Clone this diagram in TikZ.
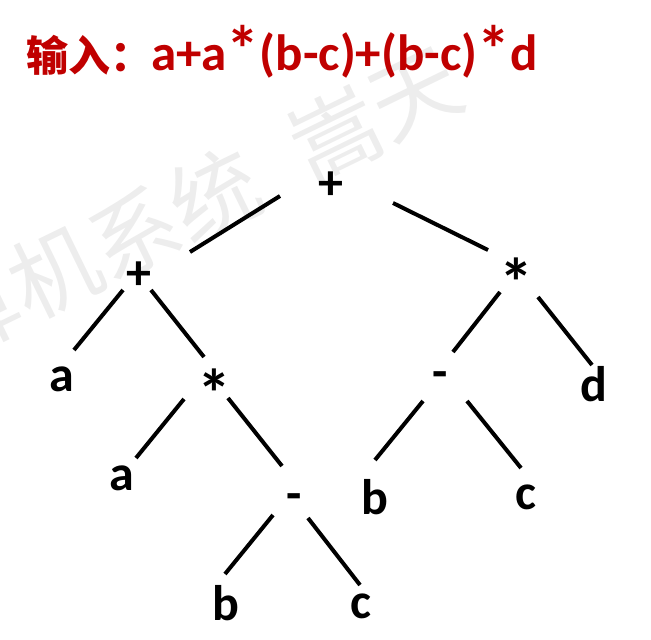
\documentclass[tikz,border=0pt]{standalone}
\usepackage{fontspec}
\setmainfont{Carlito}
\newfontfamily\cjk{Noto Sans CJK SC}
\definecolor{titlered}{RGB}{192,0,0}
\newcommand{\bigast}{{\fontsize{66}{60}\selectfont\raisebox{-2pt}{*}}}
\begin{document}
\begin{tikzpicture}[x=1pt,y=-1pt,
  lab/.style={font=\fontsize{50}{60}\selectfont\bfseries, inner sep=0pt},
  astlab/.style={font=\fontsize{68}{60}\selectfont\bfseries, inner sep=0pt},
  edge/.style={line width=4pt},
  wm/.style={font=\cjk\fontsize{89}{100}\selectfont, text=black!7, rotate=26, inner sep=0pt}]
\useasboundingbox (0,0) rectangle (651,640);
% watermark
\begin{scope}
\clip (0,0) rectangle (651,640);
\node[wm] (w1) at (-25,311) {算};
\node[wm] (w2) at (55,272) {机};
\node[wm] (w3) at (135,233) {系};
\node[wm] (w4) at (215,194) {统};
\node[wm] (w5) at (336,135) {嵩};
\node[wm] (w6) at (416,96) {天};
\end{scope}
% title
\node[anchor=base west, inner sep=0pt, text=titlered, font=\cjk\bfseries\fontsize{42}{48}\selectfont] (t1) at (26,71) {输入：};
\node[anchor=base west, inner sep=0pt, text=titlered, font=\bfseries\fontsize{51}{60}\selectfont] (t2) at (151,70) {a+a\bigast(b-c)+(b-c)\bigast d};
% tree labels
\node[lab] (root) at (331,186) {+};
\node[lab] (lp) at (139,276) {+};
\node[astlab] (rs) at (516,282) {*};
\node[lab] (a1) at (62,379) {a};
\node[astlab] (ms) at (214,393) {*};
\node[lab] (rm) at (440,380) {-};
\node[lab] (d) at (594,384) {d};
\node[lab] (a2) at (122,478) {a};
\node[lab] (mm) at (294,502) {-};
\node[lab] (b1) at (375,497) {b};
\node[lab] (c1) at (526,497) {c};
\node[lab] (b2) at (226,603) {b};
\node[lab] (c2) at (361,606) {c};
% edge end points
\coordinate (e1s) at (280,196); \coordinate (e1e) at (190,252);
\coordinate (e2s) at (393,203); \coordinate (e2e) at (488,250);
\coordinate (e3s) at (123,290); \coordinate (e3e) at (74,350);
\coordinate (e4s) at (151,290); \coordinate (e4e) at (204,357);
\coordinate (e5s) at (500,292); \coordinate (e5e) at (453,352);
\coordinate (e6s) at (538,297); \coordinate (e6e) at (592,365);
\coordinate (e7s) at (423,401); \coordinate (e7e) at (375,460);
\coordinate (e8s) at (467,401); \coordinate (e8e) at (521,468);
\coordinate (e9s) at (184,399); \coordinate (e9e) at (136,458);
\coordinate (e10s) at (228,398); \coordinate (e10e) at (282,466);
\coordinate (e11s) at (273,515); \coordinate (e11e) at (225,574);
\coordinate (e12s) at (308,518); \coordinate (e12e) at (360,585);
\foreach \i in {1,...,12} {\draw[edge] (e\i s) -- (e\i e);}
\end{tikzpicture}
\end{document}
